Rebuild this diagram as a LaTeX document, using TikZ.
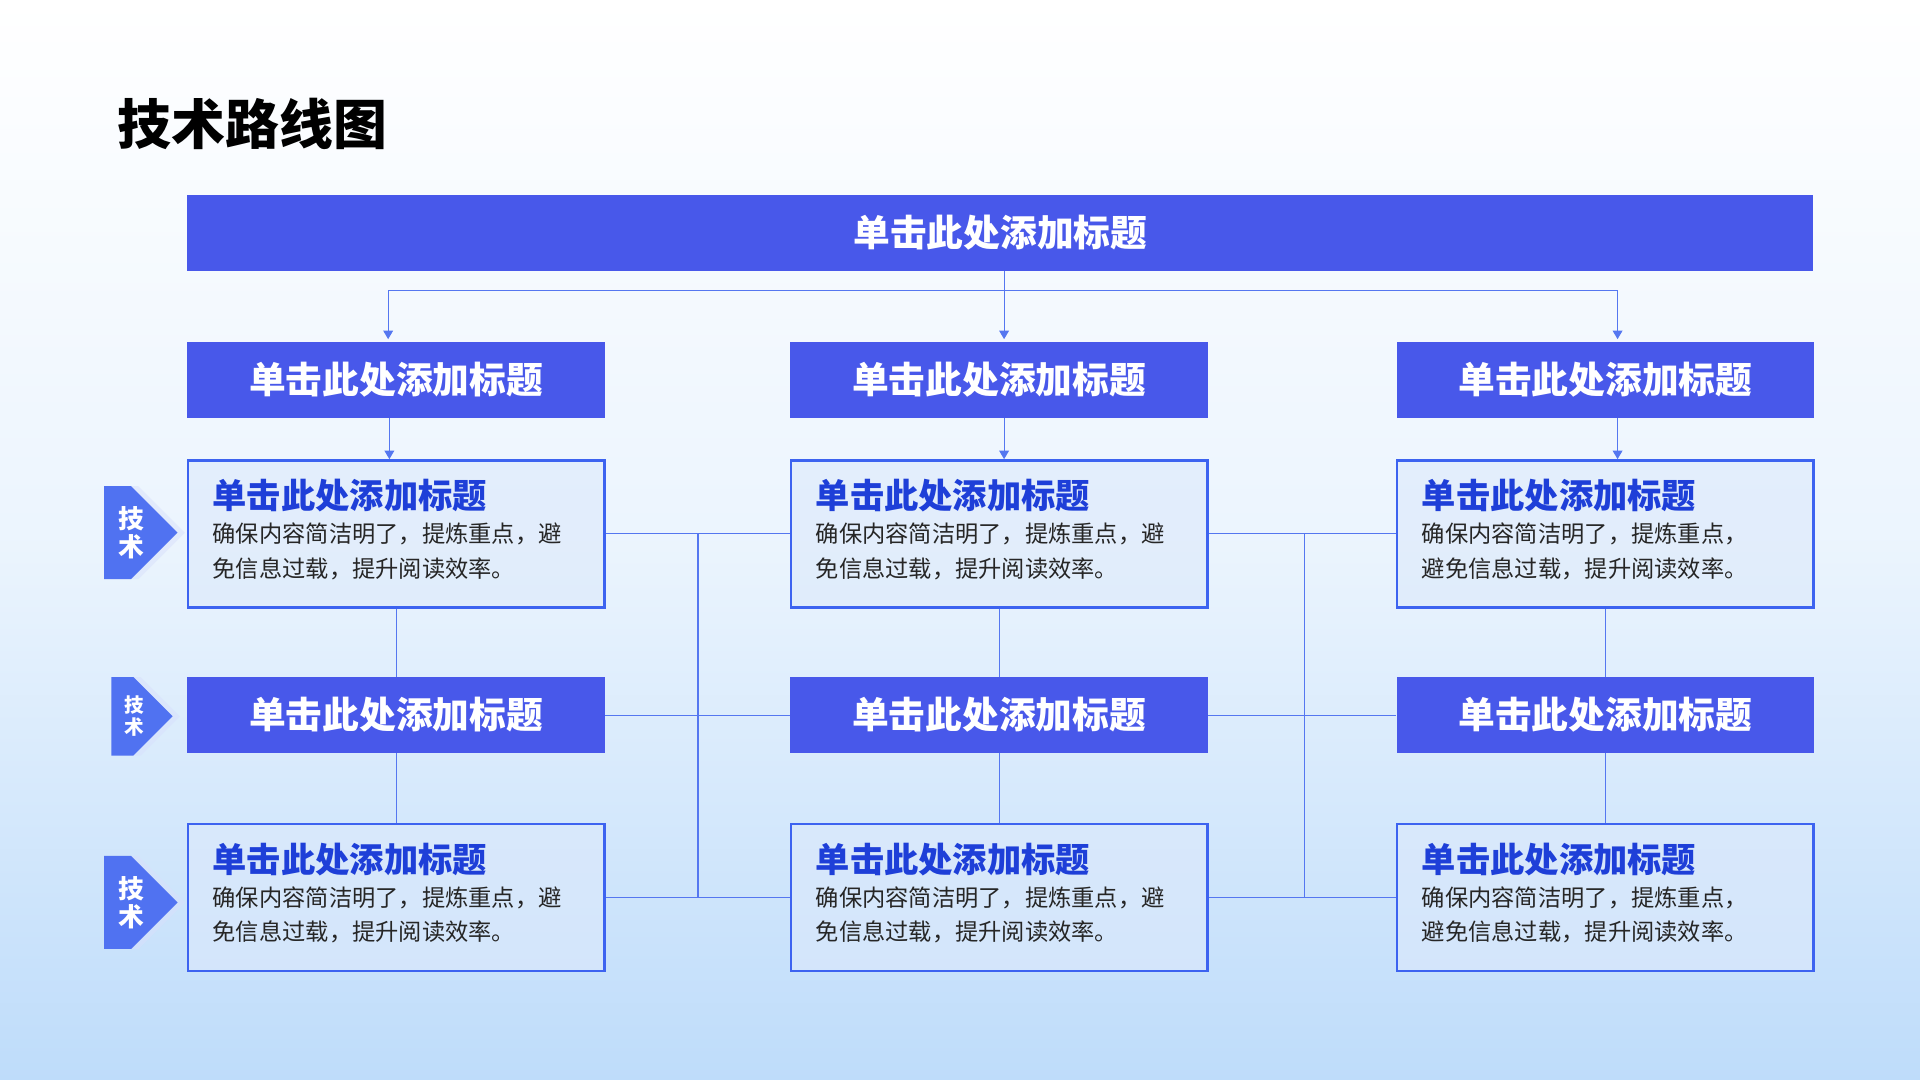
\documentclass[tikz,border=0pt]{standalone}
\usepackage{fontspec}
\setmainfont{Noto Sans CJK SC}
\usetikzlibrary{arrows.meta}
\definecolor{hd}{HTML}{4858EA}
\definecolor{bd}{HTML}{3D63F0}
\definecolor{ln}{HTML}{5577F0}
\definecolor{tb}{HTML}{1E3FD8}
\definecolor{bgb}{HTML}{BEDCFA}
\definecolor{cf}{HTML}{DCE9FB}
\tikzset{
 hdbox/.style={fill=hd,draw=none,minimum height=62pt,inner sep=0pt,text=white,font=\fontsize{30}{34}\selectfont\bfseries},
 card/.style={fill=cf,fill opacity=0.6,text opacity=1,draw=bd,line width=2pt,minimum width=340pt,minimum height=120pt,inner sep=0pt},
 conn/.style={draw=ln,line width=0.9pt},
 arr/.style={conn,-{Triangle[length=7pt,width=8pt]}},
 ctitle/.style={anchor=west,text=tb,font=\fontsize{28}{32}\selectfont\bfseries,inner sep=0pt},
 cbody/.style={anchor=north west,align=left,font=\fontsize{19}{28}\selectfont,inner sep=0pt,text=black!85},
}
\begin{document}
\begin{tikzpicture}[x=1pt,y=-1pt]
\shade[top color=white,bottom color=bgb,middle color=bgb!30] (0,0) rectangle (1568,882);
\useasboundingbox (0,0) rectangle (1568,882);
\node[anchor=west,font=\fontsize{44}{48}\selectfont\bfseries,inner sep=0pt] (title) at (96,101) {技术路线图};
\node[hdbox,minimum width=1328pt] (top) at (817,190) {单击此处添加标题};
\foreach \c/\x in {a/323.5,b/816,c/1311}{
 \node[hdbox,minimum width=341pt] (h\c) at (\x,310) {单击此处添加标题};
 \node[hdbox,minimum width=341pt] (m\c) at (\x,584) {单击此处添加标题};
}
% cards
\newcommand\mkcard[5]{%
 \node[card] (#1) at (#2,#3) {};
 \node[ctitle] at ([xshift=21pt,yshift=-30pt]#1.north west) {单击此处添加标题};
 \node[cbody] at ([xshift=21pt,yshift=-52pt]#1.north west) {#4\\#5};
}
\mkcard{ua}{323.5}{436}{确保内容简洁明了，提炼重点，避}{免信息过载，提升阅读效率。}
\mkcard{ub}{816}{436}{确保内容简洁明了，提炼重点，避}{免信息过载，提升阅读效率。}
\mkcard{uc}{1311}{436}{确保内容简洁明了，提炼重点，}{避免信息过载，提升阅读效率。}
\mkcard{la}{323.5}{733}{确保内容简洁明了，提炼重点，避}{免信息过载，提升阅读效率。}
\mkcard{lb}{816}{733}{确保内容简洁明了，提炼重点，避}{免信息过载，提升阅读效率。}
\mkcard{lc}{1311}{733}{确保内容简洁明了，提炼重点，}{避免信息过载，提升阅读效率。}
% top connectors
\coordinate (j) at (820,237);
\draw[conn] (820,221) -- (j);
\draw[arr] (j) -| (317,277);
\draw[arr] (j) -- (820,277);
\draw[arr] (j) -| (1321,277);
\draw[arr] (ha.south -| 318,0) -- (318,375);
\draw[arr] (hb.south -| 820,0) -- (820,375);
\draw[arr] (hc.south -| 1321,0) -- (1321,375);
% verticals
\foreach \c in {a,b,c}{
 \draw[conn] (u\c.south) -- (m\c.north);
 \draw[conn] (m\c.south) -- (l\c.north);
}
% horizontals
\draw[conn] (ua.east) -- (ub.west);
\draw[conn] (ub.east) -- (uc.west);
\draw[conn] (ma.east) -- (mb.west);
\draw[conn] (mb.east) -- (mc.west);
\draw[conn] (la.east) -- (lb.west);
\draw[conn] (lb.east) -- (lc.west);
\draw[conn] (570,436) -- (570,733);
\draw[conn] (1065,436) -- (1065,733);
% badges
\newcommand\badge[5]{% name, x, y, w, h
 \fill[white!80!bd,opacity=0.5] (#2+6,#3-#5/2) -- ++(#4-#5/2,0) -- ++(#5/2,#5/2) -- ++(-#5/2,#5/2) -- ++(-#4+#5/2,0) -- cycle;
 \fill[bd!90!white] (#2,#3-#5/2) -- ++(#4-#5/2,0) -- ++(#5/2,#5/2) -- ++(-#5/2,#5/2) -- ++(-#4+#5/2,0) -- cycle;
 \node[text=white,font=\fontsize{#1}{#1}\selectfont\bfseries,align=center,inner sep=0pt] at (#2+22*#4/60,#3) {技\\[2pt]术};
}
\badge{21}{85}{435}{60}{76}
\badge{16}{91}{585}{50}{64}
\badge{21}{85}{737}{60}{76}
\end{tikzpicture}
\end{document}
